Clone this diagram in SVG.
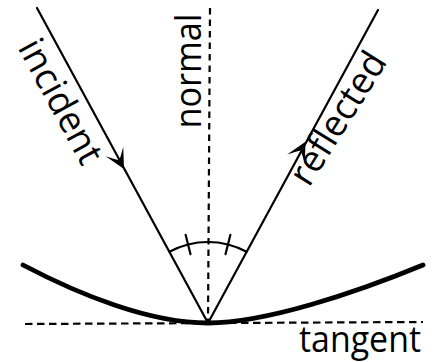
<svg xmlns="http://www.w3.org/2000/svg" width="438" height="362" viewBox="0 0 438 362">
  <style>
    .ray { stroke: #000; stroke-width: 2.2; fill: none; stroke-linecap: round; }
    .dash { stroke: #000; stroke-width: 2.2; fill: none; }
    .mirror { stroke: #000; stroke-width: 4.8; fill: none; stroke-linecap: round; }
    .lbl { font-family: "Open Sans", Lato, sans-serif; font-size: 37px; fill: #000; }
  </style>
  <defs>
    <path id="head" d="M0,0 L-20,-10 Q-12,-2.5 -10,0 Q-12,2.5 -20,10 Z" fill="#000"/>
  </defs>
  <rect width="438" height="362" fill="#fff"/>
  <g id="mirror">
    <path class="mirror" d="M23,265 C80,295 150,323 208,323 C265,323 355,293 423,265"/>
  </g>
  <g id="connectors">
    <line class="dash" x1="210" y1="8" x2="208" y2="323" stroke-dasharray="6.5 5"/>
    <line class="dash" x1="25" y1="324" x2="423" y2="322" stroke-dasharray="7.5 4.5"/>
    <line class="ray" x1="37" y1="8" x2="208" y2="323"/>
    <line class="ray" x1="208" y1="323" x2="378" y2="10"/>
    <use href="#head" transform="translate(124,169) rotate(61.5)"/>
    <use href="#head" transform="translate(305.5,141.7) rotate(-61.5)"/>
  </g>
  <g id="angle">
    <path class="ray" d="M169.4,251.8 A81,81 0 0 1 246.6,251.8"/>
    <line class="ray" x1="190.5" y1="254.2" x2="185.6" y2="234.8"/>
    <line class="ray" x1="225.5" y1="254.2" x2="230.4" y2="234.8"/>
  </g>
  <g id="labels">
    <text class="lbl" transform="translate(17.3,47.5) rotate(61.5)" textLength="136" lengthAdjust="spacingAndGlyphs">incident</text>
    <text class="lbl" transform="translate(309,188) rotate(-58)" textLength="149" lengthAdjust="spacingAndGlyphs">reflected</text>
    <text class="lbl" transform="translate(201,128.5) rotate(-90)" textLength="115" lengthAdjust="spacingAndGlyphs">normal</text>
    <text class="lbl" x="299" y="352" textLength="122" lengthAdjust="spacingAndGlyphs">tangent</text>
  </g>
</svg>
